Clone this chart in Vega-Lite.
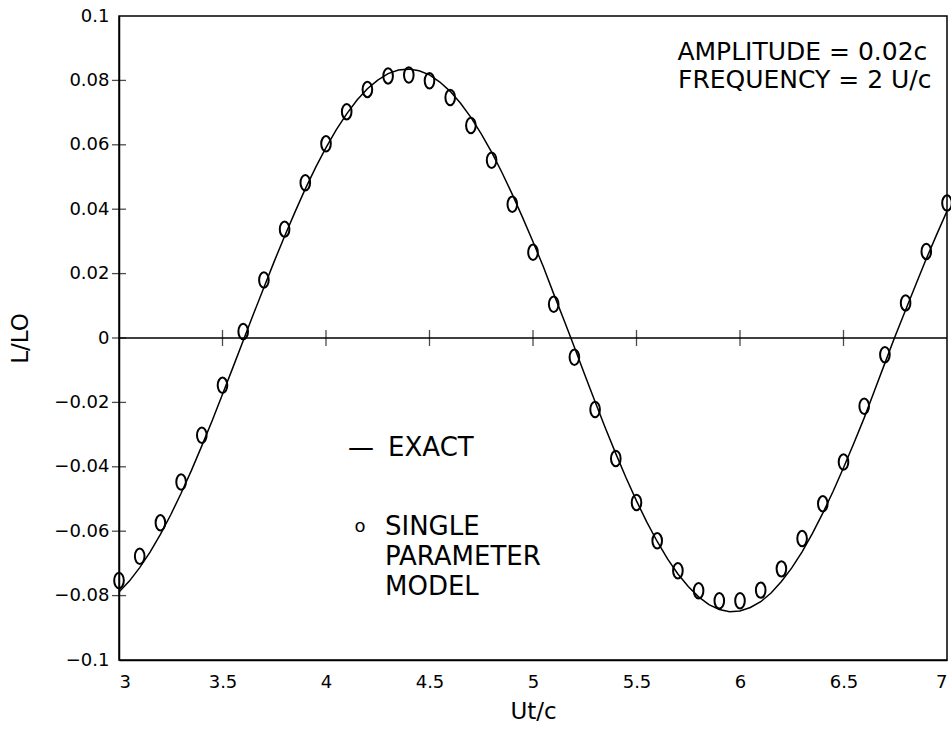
{
  "$schema": "https://vega.github.io/schema/vega-lite/v6.json",
  "width": 828,
  "height": 644,
  "autosize": {"type": "none"},
  "padding": {"left": 119, "top": 16, "right": 4, "bottom": 78},
  "background": "white",
  "config": {
    "view": {"stroke": "black", "strokeWidth": 1.5},
    "font": "DejaVu Sans",
    "axis": {"domainColor": "black", "domainWidth": 1.5, "labelColor": "black", "titleColor": "black", "grid": false, "labelFont": "DejaVu Sans", "titleFont": "DejaVu Sans", "titleFontWeight": "normal"}
  },
  "datasets": {
    "exact": [
      {"x": 3.00, "L": -0.0789}, {"x": 3.05, "L": -0.0755}, {"x": 3.10, "L": -0.0713}, {"x": 3.15, "L": -0.0665},
      {"x": 3.20, "L": -0.0610}, {"x": 3.25, "L": -0.0549}, {"x": 3.30, "L": -0.0482}, {"x": 3.35, "L": -0.0411},
      {"x": 3.40, "L": -0.0335}, {"x": 3.45, "L": -0.0257}, {"x": 3.50, "L": -0.0175}, {"x": 3.55, "L": -0.0092},
      {"x": 3.605, "L": 0.0}, {"x": 3.65, "L": 0.0075}, {"x": 3.70, "L": 0.0157}, {"x": 3.75, "L": 0.0238},
      {"x": 3.80, "L": 0.0316}, {"x": 3.85, "L": 0.0391}, {"x": 3.90, "L": 0.0463}, {"x": 3.95, "L": 0.0530},
      {"x": 4.00, "L": 0.0591}, {"x": 4.05, "L": 0.0647}, {"x": 4.10, "L": 0.0696}, {"x": 4.15, "L": 0.0739},
      {"x": 4.20, "L": 0.0774}, {"x": 4.25, "L": 0.0801}, {"x": 4.30, "L": 0.0821}, {"x": 4.35, "L": 0.0832},
      {"x": 4.40, "L": 0.0835}, {"x": 4.45, "L": 0.0830}, {"x": 4.50, "L": 0.0817}, {"x": 4.55, "L": 0.0795},
      {"x": 4.60, "L": 0.0766}, {"x": 4.65, "L": 0.0729}, {"x": 4.70, "L": 0.0685}, {"x": 4.75, "L": 0.0634},
      {"x": 4.80, "L": 0.0577}, {"x": 4.85, "L": 0.0514}, {"x": 4.90, "L": 0.0446}, {"x": 4.95, "L": 0.0374},
      {"x": 5.00, "L": 0.0299}, {"x": 5.05, "L": 0.0221}, {"x": 5.10, "L": 0.0137}, {"x": 5.15, "L": 0.0055},
      {"x": 5.183, "L": 0.0}, {"x": 5.20, "L": -0.0029}, {"x": 5.25, "L": -0.0114}, {"x": 5.30, "L": -0.0198},
      {"x": 5.35, "L": -0.0280}, {"x": 5.40, "L": -0.0359}, {"x": 5.45, "L": -0.0435}, {"x": 5.50, "L": -0.0506},
      {"x": 5.55, "L": -0.0572}, {"x": 5.60, "L": -0.0632}, {"x": 5.65, "L": -0.0686}, {"x": 5.70, "L": -0.0733},
      {"x": 5.75, "L": -0.0772}, {"x": 5.80, "L": -0.0804}, {"x": 5.85, "L": -0.0828}, {"x": 5.90, "L": -0.0843},
      {"x": 5.95, "L": -0.0850}, {"x": 6.00, "L": -0.0848}, {"x": 6.05, "L": -0.0837}, {"x": 6.10, "L": -0.0819},
      {"x": 6.15, "L": -0.0792}, {"x": 6.20, "L": -0.0756}, {"x": 6.25, "L": -0.0714}, {"x": 6.30, "L": -0.0664},
      {"x": 6.35, "L": -0.0607}, {"x": 6.40, "L": -0.0544}, {"x": 6.45, "L": -0.0476}, {"x": 6.50, "L": -0.0403},
      {"x": 6.55, "L": -0.0327}, {"x": 6.60, "L": -0.0248}, {"x": 6.65, "L": -0.0163}, {"x": 6.70, "L": -0.0078},
      {"x": 6.746, "L": 0.0}, {"x": 6.80, "L": 0.0087}, {"x": 6.85, "L": 0.0167}, {"x": 6.90, "L": 0.0246},
      {"x": 6.95, "L": 0.0321}, {"x": 7.00, "L": 0.0394}
    ],
    "model": [
      {"x": 3.0, "L": -0.0753}, {"x": 3.1, "L": -0.0678}, {"x": 3.2, "L": -0.0574}, {"x": 3.3, "L": -0.0447},
      {"x": 3.4, "L": -0.0302}, {"x": 3.5, "L": -0.0147}, {"x": 3.6, "L": 0.0020}, {"x": 3.7, "L": 0.0180},
      {"x": 3.8, "L": 0.0338}, {"x": 3.9, "L": 0.0482}, {"x": 4.0, "L": 0.0603}, {"x": 4.1, "L": 0.0703},
      {"x": 4.2, "L": 0.0772}, {"x": 4.3, "L": 0.0814}, {"x": 4.4, "L": 0.0817}, {"x": 4.5, "L": 0.0799},
      {"x": 4.6, "L": 0.0747}, {"x": 4.7, "L": 0.0660}, {"x": 4.8, "L": 0.0552}, {"x": 4.9, "L": 0.0415},
      {"x": 5.0, "L": 0.0266}, {"x": 5.1, "L": 0.0105}, {"x": 5.2, "L": -0.0060}, {"x": 5.3, "L": -0.0222},
      {"x": 5.4, "L": -0.0374}, {"x": 5.5, "L": -0.0511}, {"x": 5.6, "L": -0.0630}, {"x": 5.7, "L": -0.0723},
      {"x": 5.8, "L": -0.0785}, {"x": 5.9, "L": -0.0816}, {"x": 6.0, "L": -0.0816}, {"x": 6.1, "L": -0.0783},
      {"x": 6.2, "L": -0.0717}, {"x": 6.3, "L": -0.0623}, {"x": 6.4, "L": -0.0515}, {"x": 6.5, "L": -0.0385},
      {"x": 6.6, "L": -0.0212}, {"x": 6.7, "L": -0.0052}, {"x": 6.8, "L": 0.0109}, {"x": 6.9, "L": 0.0269},
      {"x": 7.0, "L": 0.0419}
    ],
    "xticks": [{"x": 3.5}, {"x": 4}, {"x": 4.5}, {"x": 5}, {"x": 5.5}, {"x": 6}, {"x": 6.5}],
    "yticks": [{"y": 0.08}, {"y": 0.06}, {"y": 0.04}, {"y": 0.02}, {"y": 0}, {"y": -0.02}, {"y": -0.04}, {"y": -0.06}, {"y": -0.08}],
    "info": [
      {"x": 6.905, "y": 0.0888, "label": "AMPLITUDE = 0.02c"},
      {"x": 6.925, "y": 0.0801, "label": "FREQUENCY = 2 U/c"}
    ],
    "legend": [
      {"x": 4.30, "y": -0.0342, "label": "EXACT"},
      {"x": 4.285, "y": -0.0587, "label": "SINGLE"},
      {"x": 4.285, "y": -0.0680, "label": "PARAMETER"},
      {"x": 4.285, "y": -0.0773, "label": "MODEL"}
    ],
    "legenddash": [{"x": 4.106, "y": -0.0342, "label": "—"}],
    "legendmark": [{"x": 4.164, "y": -0.0587, "label": "o"}]
  },
  "encoding": {
    "x": {"type": "quantitative"},
    "y": {"type": "quantitative"}
  },
  "layer": [
    {
      "data": {"name": "exact"},
      "mark": {"type": "line", "color": "black", "strokeWidth": 1.5, "clip": true},
      "encoding": {
        "x": {"field": "x", "type": "quantitative", "scale": {"domain": [3, 7], "nice": false, "zero": false},
          "axis": {"title": "Ut/c", "values": [3, 3.5, 4, 4.5, 5, 5.5, 6, 6.5, 7], "format": "~g", "ticks": false, "labelPadding": 13, "labelFontSize": 18, "titleFontSize": 23, "titlePadding": 9}},
        "y": {"field": "L", "type": "quantitative", "scale": {"domain": [-0.1, 0.1], "nice": false, "zero": false},
          "axis": {"title": "L/LO", "values": [-0.1, -0.08, -0.06, -0.04, -0.02, 0, 0.02, 0.04, 0.06, 0.08, 0.1], "format": "~g", "ticks": false, "labelPadding": 10, "labelFontSize": 18, "titleFontSize": 23, "titlePadding": 21}}
      }
    },
    {
      "data": {"name": "model"},
      "mark": {"type": "point", "shape": "M0,-1A0.62,1 0 1,1 0,1A0.62,1 0 1,1 0,-1Z", "size": 240, "filled": false, "stroke": "black", "strokeWidth": 2, "opacity": 1},
      "encoding": {
        "x": {"field": "x", "type": "quantitative"},
        "y": {"field": "L", "type": "quantitative"}
      }
    },
    {
      "data": {"values": [{"z": 0}]},
      "mark": {"type": "rule", "color": "black", "strokeWidth": 1.5},
      "encoding": {"y": {"field": "z", "type": "quantitative"}}
    },
    {
      "data": {"name": "xticks"},
      "mark": {"type": "tick", "orient": "vertical", "color": "black", "size": 16, "thickness": 1.3},
      "encoding": {"x": {"field": "x", "type": "quantitative"}, "y": {"datum": 0}}
    },
    {
      "data": {"name": "yticks"},
      "mark": {"type": "tick", "orient": "horizontal", "color": "black", "size": 14, "thickness": 1.3},
      "encoding": {"y": {"field": "y", "type": "quantitative"}, "x": {"datum": 3}}
    },
    {
      "data": {"name": "info"},
      "mark": {"type": "text", "align": "right", "baseline": "middle", "fontSize": 25, "font": "DejaVu Sans", "color": "black"},
      "encoding": {"x": {"field": "x", "type": "quantitative"}, "y": {"field": "y", "type": "quantitative"}, "text": {"field": "label"}}
    },
    {
      "data": {"name": "legend"},
      "mark": {"type": "text", "align": "left", "baseline": "middle", "fontSize": 26, "font": "DejaVu Sans", "color": "black"},
      "encoding": {"x": {"field": "x", "type": "quantitative"}, "y": {"field": "y", "type": "quantitative"}, "text": {"field": "label"}}
    },
    {
      "data": {"name": "legenddash"},
      "mark": {"type": "text", "align": "left", "baseline": "middle", "fontSize": 26, "font": "DejaVu Sans", "color": "black"},
      "encoding": {"x": {"field": "x", "type": "quantitative"}, "y": {"field": "y", "type": "quantitative"}, "text": {"field": "label"}}
    },
    {
      "data": {"name": "legendmark"},
      "mark": {"type": "text", "align": "center", "baseline": "middle", "fontSize": 18, "font": "DejaVu Sans", "color": "black"},
      "encoding": {"x": {"field": "x", "type": "quantitative"}, "y": {"field": "y", "type": "quantitative"}, "text": {"field": "label"}}
    }
  ]
}
